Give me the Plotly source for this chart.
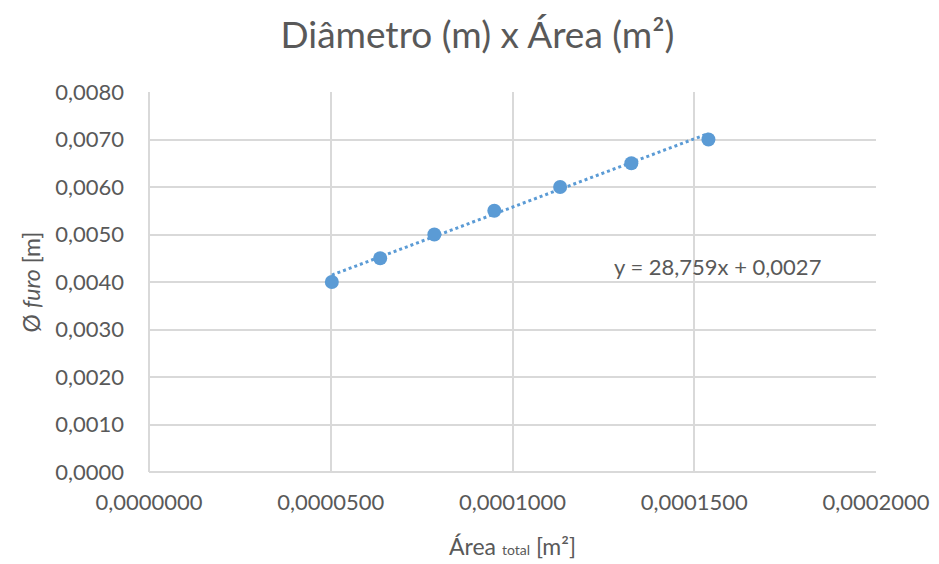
import plotly.graph_objects as go

area_total = [0.0000503, 0.0000636, 0.0000785, 0.0000950, 0.0001131, 0.0001327, 0.0001539]
diametro = [0.0040, 0.0045, 0.0050, 0.0055, 0.0060, 0.0065, 0.0070]
slope = 28.759
intercept = 0.0027
eq_label = "y = 28,759x + 0,0027"

x_ticks = [0, 0.00005, 0.0001, 0.00015, 0.0002]
y_ticks = [0, 0.001, 0.002, 0.003, 0.004, 0.005, 0.006, 0.007, 0.008]

blue = "#5b9bd5"
grey = "#595959"
font = "Lato, 'Open Sans', sans-serif"

trend_x = [min(area_total), max(area_total)]
trend_y = [slope * v + intercept for v in trend_x]

fig = go.Figure()
fig.add_trace(go.Scatter(x=trend_x, y=trend_y, mode="lines",
                         line=dict(color=blue, width=3, dash="dot"),
                         showlegend=False, hoverinfo="skip"))
fig.add_trace(go.Scatter(x=area_total, y=diametro, mode="markers",
                         marker=dict(color=blue, size=14),
                         showlegend=False))

fig.add_annotation(x=0.0001274, y=0.00432, text=eq_label, showarrow=False,
                   xanchor="left", yanchor="middle",
                   font=dict(family=font, size=22, color=grey))

fig.update_layout(
    width=939, height=564,
    paper_bgcolor="white", plot_bgcolor="white",
    separators=",.",
    margin=dict(l=141, r=71, t=84, b=100),
    title=dict(text="Diâmetro (m) x Área (m²)", x=0.5, xanchor="center",
               y=0.952, yanchor="middle",
               font=dict(family=font, size=37, color=grey)),
    font=dict(family=font, size=22, color=grey),
    xaxis=dict(range=[0, 0.0002], tickvals=x_ticks, tickformat=".7f",
               showgrid=True, gridcolor="#d9d9d9", gridwidth=1.5,
               zeroline=True, zerolinecolor="#d9d9d9", zerolinewidth=1.5,
               showline=False, ticks="", ticklabelstandoff=15,
               title=dict(text="Área <span style='font-size:14px'>total</span> [m²]",
                          font=dict(family=font, size=23, color=grey), standoff=24)),
    yaxis=dict(range=[0, 0.008], tickvals=y_ticks, tickformat=".4f",
               showgrid=True, gridcolor="#d9d9d9", gridwidth=1.5,
               zeroline=True, zerolinecolor="#d9d9d9", zerolinewidth=1.5,
               showline=False, ticks="", ticklabelstandoff=24,
               title=dict(text="Ø <i>furo</i> [m]",
                          font=dict(family=font, size=23, color=grey), standoff=8)),
)

fig.write_html("out.html")
